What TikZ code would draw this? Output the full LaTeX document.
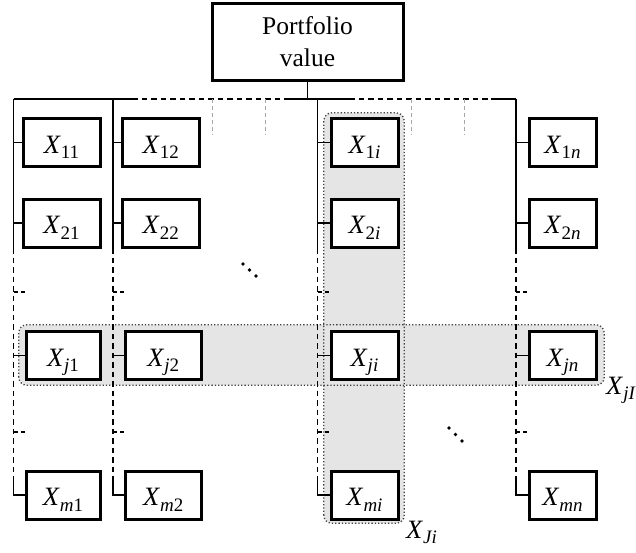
\documentclass[tikz,border=0pt]{standalone}
\usepackage{fontspec}
\setmainfont{Liberation Serif}
\usetikzlibrary{calc}
\newcommand\XS[1]{\textit{X}\raisebox{-5.5pt}{\fontsize{19}{19}\selectfont #1}}
\begin{document}
\begin{tikzpicture}[x=1pt,y=-1pt,
  cell/.style={draw,line width=3pt,minimum height=48pt,inner sep=0pt,
    font=\fontsize{26.5}{26.5}\selectfont,text height=21pt,text depth=0pt,fill=white},
  conn/.style={line width=1.1pt},
  dconn/.style={line width=1.1pt,dash pattern=on 5.5pt off 4pt},
  sconn/.style={line width=1.1pt,dash pattern=on 4pt off 3pt},
  gstub/.style={line width=1pt,draw=black!35,dash pattern=on 4pt off 3pt},
  grpfill/.style={fill=black!10,draw=none,inner sep=0pt,rounded corners=8pt},
  grpb/.style={draw=black!75,line width=1.3pt,dotted,rounded corners=8pt},
  lab/.style={anchor=base west,inner sep=0pt,font=\fontsize{26.5}{26.5}\selectfont},
]
\useasboundingbox (0,0) rectangle (636,552);

% groups
\node[grpfill,minimum width=80pt,minimum height=410pt] (gi) at (364,318) {};
\node[grpfill,minimum width=585pt,minimum height=60pt] (gj) at (311.5,355) {};
\draw[grpb] (gi.south west) rectangle (gi.north east);
\draw[grpb] (gj.south west) rectangle (gj.north east);

% top box
\node[draw,line width=3pt,minimum width=191pt,minimum height=77pt,inner sep=0pt,
  align=center,font=\fontsize{25.5}{32}\selectfont] (pv) at (307.5,41.5) {Portfolio\\value};

% bus
\coordinate (b1) at (13.5,99);
\coordinate (b2) at (113,99);
\coordinate (bi) at (317.5,99);
\coordinate (bn) at (516,99);
\coordinate (d1) at (132,99);
\coordinate (d2) at (286,99);
\coordinate (d3) at (349,99);
\coordinate (d4) at (491,99);
\draw[conn] (pv.south) -- (pv.south |- bi);
\draw[conn] (b1) -- (d1);
\draw[dconn] (d1) -- (d2);
\draw[conn] (d2) -- (d3);
\draw[dconn] (d3) -- (d4);
\draw[conn] (d4) -- (bn);

% gray stubs
\foreach \k/\x in {1/212,2/265,3/411,4/464}{
  \coordinate (ga\k) at (\x,99);
  \coordinate (gb\k) at (\x,135);
  \draw[gstub] (ga\k) -- (gb\k);
}

% boxes
\node[cell,minimum width=77pt] (c11) at (61.5,142.5) {\XS{11}};
\node[cell,minimum width=77pt] (c21) at (61.5,223) {\XS{21}};
\node[cell,minimum width=74pt] (cj1) at (63,355.5) {\XS{\textit{j}1}};
\node[cell,minimum width=74pt] (cm1) at (63,495) {\XS{\textit{m}1}};

\node[cell,minimum width=76.5pt] (c12) at (160.75,142.5) {\XS{12}};
\node[cell,minimum width=76.5pt] (c22) at (160.75,223) {\XS{22}};
\node[cell,minimum width=76.5pt] (cj2) at (163.25,355.5) {\XS{\textit{j}2}};
\node[cell,minimum width=76.5pt] (cm2) at (163.25,495) {\XS{\textit{m}2}};

\node[cell,minimum width=67pt] (c1i) at (364.5,142.5) {\XS{1\textit{i}}};
\node[cell,minimum width=67pt] (c2i) at (364.5,223) {\XS{2\textit{i}}};
\node[cell,minimum width=67pt] (cji) at (364.5,355.5) {\XS{\textit{ji}}};
\node[cell,minimum width=67pt] (cmi) at (364.5,495) {\XS{\textit{mi}}};

\node[cell,minimum width=67pt] (c1n) at (562.5,142.5) {\XS{1\textit{n}}};
\node[cell,minimum width=67pt] (c2n) at (562.5,223) {\XS{2\textit{n}}};
\node[cell,minimum width=67pt] (cjn) at (562.5,355.5) {\XS{\textit{jn}}};
\node[cell,minimum width=67pt] (cmn) at (562.5,495) {\XS{\textit{mn}}};

% column lines
\foreach \c/\x in {1/13.5,2/113,i/317.5,n/516}{
  \coordinate (s\c) at (\x,248);
  \coordinate (t\c) at (\x,478);
  \coordinate (u\c) at (\x,292);
  \coordinate (v\c) at (\x,432);
  \draw[conn] (b\c) -- (s\c);
  \draw[dconn] (s\c) -- (t\c);
  \draw[conn] (t\c) |- (cm\c.west);
  \draw[conn] (c1\c.west) -- (c1\c.west -| b\c);
  \draw[conn] (c2\c.west) -- (c2\c.west -| b\c);
  \draw[conn] (cj\c.west) -- (cj\c.west -| b\c);
  \draw[sconn] (u\c) -- ++(13,0);
  \draw[sconn] (v\c) -- ++(13,0);
}

% ellipses
\fill (243,264) circle (1.8pt);
\fill (249.5,270) circle (1.8pt);
\fill (256,276) circle (1.8pt);
\fill (449,428) circle (1.8pt);
\fill (455.5,434.5) circle (1.8pt);
\fill (462,441) circle (1.8pt);

% group labels
\node[lab] (lj) at (606,394) {\XS{\textit{jI}}};
\node[lab] (li) at (406,538) {\XS{\textit{Ji}}};
\end{tikzpicture}
\end{document}
